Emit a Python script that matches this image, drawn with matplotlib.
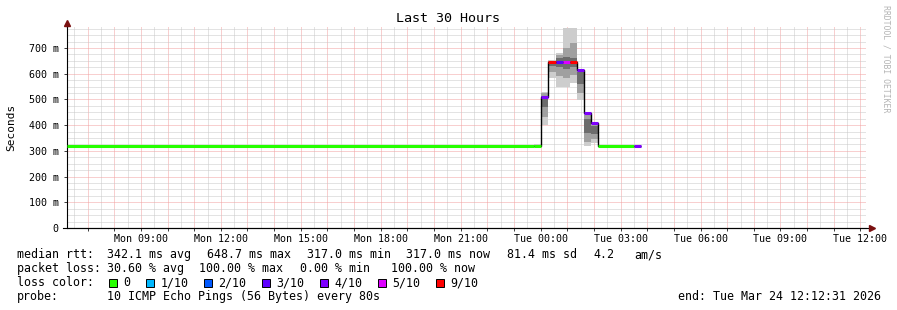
"""SmokePing style latency graph: last 30 hours, median rtt with smoke."""

import datetime as dt

import matplotlib
matplotlib.use("Agg")
import matplotlib.pyplot as plt
import matplotlib.dates as mdates
from matplotlib.patches import Rectangle
from matplotlib.ticker import MultipleLocator, FuncFormatter

W, H = 897, 310
MONO = "DejaVu Sans Mono"
FS = 8.4       # legend text
FS_TICK = 7.2  # axis tick labels
CHAR = 7.0     # px per monospace char at FS

# ── data ──────────────────────────────────────────────────────
GRAPH_START = dt.datetime(2026, 3, 23, 6, 12, 31)
GRAPH_END = dt.datetime(2026, 3, 24, 12, 12, 31)

# step boundaries (16 min steps, 10 pings every 80 s)
step_edges = [
    "2026-03-23 06:12:31",
    "2026-03-23 23:45:36",
    "2026-03-24 00:01:36",
    "2026-03-24 00:17:36",
    "2026-03-24 00:33:36",
    "2026-03-24 00:49:36",
    "2026-03-24 01:05:36",
    "2026-03-24 01:21:36",
    "2026-03-24 01:37:36",
    "2026-03-24 01:53:36",
    "2026-03-24 02:09:36",
    "2026-03-24 03:29:36",
    "2026-03-24 03:45:36",
]
median_ms = [317, 317, 510, 644, 644, 644, 644, 615, 448, 407, 317, 317]
lost_pings = [0, 0, 4, 9, 3, 5, 9, 4, 4, 4, 0, 4]
# sorted ping rtts per step (ms), used for the smoke
smoke_ms = [
    [],
    [317, 318, 322, 326],
    [400, 432, 470, 500, 515, 525, 530],
    [585, 605, 628, 644, 650, 654],
    [550, 590, 625, 644, 660, 672, 679],
    [550, 585, 620, 644, 665, 700, 778],
    [563, 595, 625, 644, 660, 720, 778],
    [498, 525, 560, 590, 605, 612, 617],
    [318, 335, 370, 400, 425, 440, 450],
    [330, 345, 365, 380, 395, 402, 408],
    [],
    [],
]

loss_labels = ["0", "1/10", "2/10", "3/10", "4/10", "5/10", "9/10"]
loss_keys = [0, 1, 2, 3, 4, 5, 9]
loss_colors = ["#26ff00", "#00b8ff", "#0059ff", "#5e00ff", "#7e00ff", "#dd00ff", "#ff0000"]

rtt_avg, rtt_max, rtt_min, rtt_now, rtt_sd, am_s = 342.1, 648.7, 317.0, 317.0, 81.4, 4.2
loss_avg, loss_max, loss_min, loss_now = 30.60, 100.00, 0.00, 100.00

SMOKE_GRAYS = ["#cdcdcd", "#a0a0a0", "#6c6c6c", "#4a4a4a"]
GRID_MAJOR = "#f2a0a0"
GRID_MINOR = "#c8c8c8"
ARROW = "#7a1010"


def fx(px):
    return px / W


def fy(py):
    return 1 - py / H


def loss_color(n):
    return loss_colors[loss_keys.index(n)]


def legend_text(x, y, s, ha="left"):
    # y is the visual line centre; draw on a common baseline
    fig.text(fx(x), fy(y + 4), s, ha=ha, va="baseline", family=MONO, fontsize=FS)


# ── figure ────────────────────────────────────────────────────
fig = plt.figure(figsize=(W / 100, H / 100), dpi=100, facecolor="white")
left, right, top, bottom = 66.5, 866.0, 27.4, 228.0
ax = fig.add_axes([fx(left), fy(bottom), (right - left) / W, (bottom - top) / H])

edges = mdates.date2num([dt.datetime.fromisoformat(s) for s in step_edges])
med = [m / 1000 for m in median_ms]

# smoke: outer pair lightest, inner pairs darker
for i, pings in enumerate(smoke_ms):
    if not pings:
        continue
    p = [v / 1000 for v in pings]
    n = len(p)
    for k in range(n // 2):
        lo, hi = p[k], p[n - 1 - k]
        ax.bar(edges[i], hi - lo, bottom=lo, width=edges[i + 1] - edges[i],
               align="edge", color=SMOKE_GRAYS[min(k, 3)], linewidth=0, zorder=2)

# median step line + loss coloured segments
ax.stairs(med, edges, color="black", linewidth=1.0, baseline=None, zorder=3)
ax.hlines(med, edges[:-1], edges[1:], colors=[loss_color(n) for n in lost_pings],
          linewidth=2.2, zorder=4)

ax.set_xlim(mdates.date2num(GRAPH_START), mdates.date2num(GRAPH_END))
ax.set_ylim(0, 0.78)

ax.xaxis.set_major_locator(mdates.HourLocator(interval=1))
ax.xaxis.set_minor_locator(mdates.MinuteLocator(byminute=[30]))


def _xlabel(v, pos):
    d = mdates.num2date(v)
    return d.strftime("%a %H:%M") if d.hour % 3 == 0 else ""


ax.xaxis.set_major_formatter(FuncFormatter(_xlabel))
ax.yaxis.set_major_locator(MultipleLocator(0.1))
ax.yaxis.set_minor_locator(MultipleLocator(0.025))
ax.yaxis.set_major_formatter(FuncFormatter(lambda v, p: "0" if v < 1e-9 else f"{v * 1000:.0f} m"))

ax.grid(which="major", color=GRID_MAJOR, linestyle=(0, (1, 1)), linewidth=0.72)
ax.grid(which="minor", color=GRID_MINOR, linestyle=(0, (1, 1)), linewidth=0.72)
ax.set_axisbelow(True)

ax.tick_params(which="major", length=2.5, width=0.72, color="#404040",
               labelsize=FS_TICK, labelcolor="black")
ax.tick_params(axis="x", which="major", pad=1.5)
ax.tick_params(axis="y", which="major", pad=3.0)
ax.tick_params(which="minor", length=0)
for lab in ax.get_xticklabels() + ax.get_yticklabels():
    lab.set_family(MONO)

for s in ("top", "right"):
    ax.spines[s].set_visible(False)
for s in ("left", "bottom"):
    ax.spines[s].set_linewidth(0.8)
    ax.spines[s].set_color("black")

# axis extensions with arrows
ax.plot([0, 0], [1, 1.02], transform=ax.transAxes, color="black", lw=0.8, clip_on=False)
ax.plot([-0.005, 1.004], [0, 0], transform=ax.transAxes, color="black", lw=0.8, clip_on=False)
ax.plot([0], [1.022], transform=ax.transAxes, marker="^", ms=4.5, color=ARROW,
        clip_on=False, zorder=6)
ax.plot([1.007], [0], transform=ax.transAxes, marker=">", ms=4.5, color=ARROW,
        clip_on=False, zorder=6)

# titles / labels
fig.text(fx(448), fy(19), "Last 30 Hours", ha="center", va="center",
         family=MONO, fontsize=9.6)
fig.text(fx(11), fy(127), "Seconds", rotation=90, ha="center", va="center",
         family=MONO, fontsize=8.0)
fig.text(fx(886), fy(5), "RRDTOOL / TOBI OETIKER", rotation=270, ha="center", va="top",
         family=MONO, fontsize=5.9, color="#b4b4b4")

# legend block (rrdtool places each field on its own)
legend_text(16.7, 254, "median rtt:")
for x, s in zip([107.3, 207.3, 306.7, 406.0, 506.7, 593.3, 634.3],
                [f"{rtt_avg:.1f} ms avg", f"{rtt_max:.1f} ms max", f"{rtt_min:.1f} ms min",
                 f"{rtt_now:.1f} ms now", f"{rtt_sd:.1f} ms sd", f"{am_s:.1f}", "am/s"]):
    legend_text(x, 254, s)

legend_text(16.7, 268, "packet loss:")
for x, s in zip([107.3, 199.3, 300.0, 391.0],
                [f"{loss_avg:.2f} % avg", f"{loss_max:.2f} % max", f"{loss_min:.2f} % min",
                 f"{loss_now:.2f} % now"]):
    legend_text(x, 268, s)

legend_text(16.7, 282, "loss color:")
bx = 108.5
for lab, col in zip(loss_labels, loss_colors):
    fig.patches.append(Rectangle((fx(bx), fy(286.5)), 8 / W, 8 / H, transform=fig.transFigure,
                                 facecolor=col, edgecolor="black", linewidth=0.7))
    tx = bx + 15
    legend_text(tx, 282, lab)
    bx = tx + len(lab) * CHAR + 15

legend_text(16.7, 296, "probe:")
legend_text(107.3, 296, "10 ICMP Echo Pings (56 Bytes) every 80s")
legend_text(881, 296, "end: Tue Mar 24 12:12:31 2026", ha="right")

fig.savefig("out.png", dpi=100, facecolor="white")
